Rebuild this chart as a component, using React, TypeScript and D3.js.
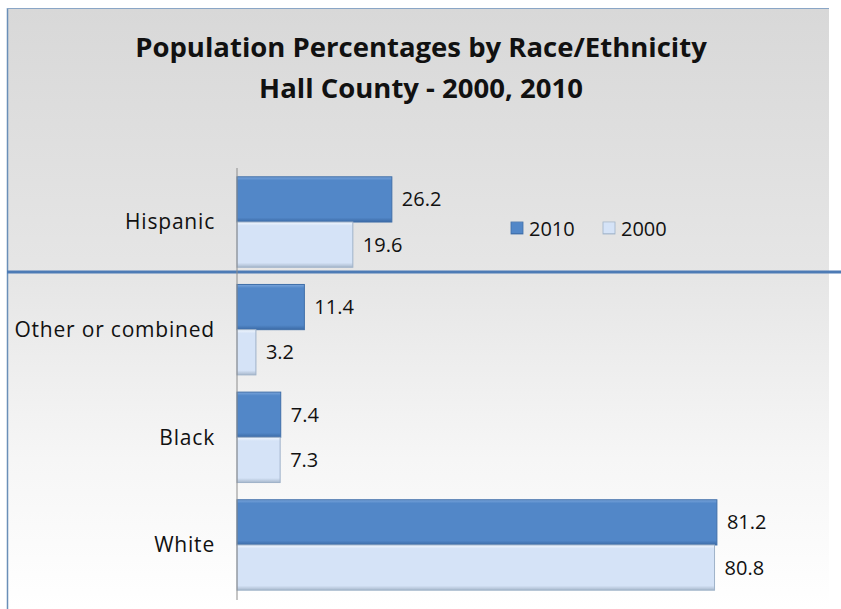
import React from "react";
import * as d3 from "d3";

const categories = ["Hispanic", "Other or combined", "Black", "White"];
const seriesNames = ["2010", "2000"];
const values2010 = [26.2, 11.4, 7.4, 81.2];
const values2000 = [19.6, 3.2, 7.3, 80.8];
const titleLines = ["Population Percentages by Race/Ethnicity", "Hall County - 2000, 2010"];

const W = 841;
const H = 609;
const FONT = "'Open Sans', Lato, sans-serif";

export default function App() {
  const x = d3.scaleLinear().domain([0, 100]).range([237, 828]);
  const y = d3.scaleBand<string>().domain(categories).range([168.2, 598.8]).paddingInner(0.16).paddingOuter(0.08);
  const ySub = d3.scaleBand<string>().domain(seriesNames).range([0, y.bandwidth()]).padding(0);
  const series = [
    { name: "2010", values: values2010 },
    { name: "2000", values: values2000 },
  ];

  return (
    <svg width={W} height={H} style={{ position: "absolute", left: 0, top: 0 }}>
      <defs>
        <linearGradient id="bg" x1="0" y1="0" x2="0" y2="1">
          <stop offset="0" stopColor="#d8d8d8" />
          <stop offset="0.45" stopColor="#e6e6e6" />
          <stop offset="0.75" stopColor="#f6f6f6" />
          <stop offset="1" stopColor="#ffffff" />
        </linearGradient>
        <linearGradient id="bev2010" x1="0" y1="0" x2="0" y2="1">
          <stop offset="0" stopColor="#7aa5db" />
          <stop offset="0.08" stopColor="#5287c8" />
          <stop offset="0.9" stopColor="#5287c8" />
          <stop offset="1" stopColor="#3b6aa5" />
        </linearGradient>
        <linearGradient id="bev2000" x1="0" y1="0" x2="0" y2="1">
          <stop offset="0" stopColor="#f2f7fe" />
          <stop offset="0.08" stopColor="#d5e3f7" />
          <stop offset="0.9" stopColor="#d5e3f7" />
          <stop offset="1" stopColor="#a8b8cc" />
        </linearGradient>
      </defs>
      <rect x={0} y={0} width={W} height={H} fill="#ffffff" />
      <rect x={7} y={8} width={822} height={H - 8} fill="url(#bg)" />
      <line x1={7.5} y1={8} x2={7.5} y2={H} stroke="#6a8fb8" strokeWidth={1.5} />
      <line x1={7} y1={8.5} x2={829} y2={8.5} stroke="#8aa6c6" strokeWidth={1.2} />
      <line x1={7} y1={272} x2={W} y2={272} stroke="#4d7bb5" strokeWidth={3} />

      {titleLines.map((t, i) => (
        <text key={i} x={421} y={57 + i * 41} textAnchor="middle" fontFamily={FONT} fontWeight="bold" fontSize={27.5} fill="#111">
          {t}
        </text>
      ))}

      {series.map((s) =>
        s.values.map((v, i) => {
          const by = (y(categories[i]) as number) + (ySub(s.name) as number);
          const bh = ySub.bandwidth();
          return (
            <g key={s.name + i}>
              <rect
                x={x(0)}
                y={by}
                width={x(v) - x(0)}
                height={bh}
                fill={`url(#bev${s.name})`}
                stroke={s.name === "2010" ? "#3f6ea8" : "#9fb2c9"}
                strokeWidth={1}
              />
              <text x={x(v) + 10} y={by + bh / 2} dy="0.35em" fontFamily={FONT} fontSize={20} fill="#111">
                {v.toFixed(1)}
              </text>
            </g>
          );
        })
      )}

      <line x1={x(0)} y1={168} x2={x(0)} y2={600} stroke="#8c8c8c" strokeWidth={1} />

      {categories.map((c) => (
        <text key={c} x={215} y={(y(c) as number) + y.bandwidth() / 2} dy="0.35em" textAnchor="end" fontFamily={FONT} fontSize={21} letterSpacing={0.8} fill="#111">
          {c}
        </text>
      ))}

      {seriesNames.map((n, i) => (
        <g key={n} transform={`translate(${511 + i * 92},222)`}>
          <rect x={0} y={0} width={12} height={12} fill={`url(#bev${n})`} stroke={n === "2010" ? "#3f6ea8" : "#9fb2c9"} strokeWidth={0.8} />
          <text x={18} y={6} dy="0.38em" fontFamily={FONT} fontSize={20} fill="#111">
            {n}
          </text>
        </g>
      ))}
    </svg>
  );
}
